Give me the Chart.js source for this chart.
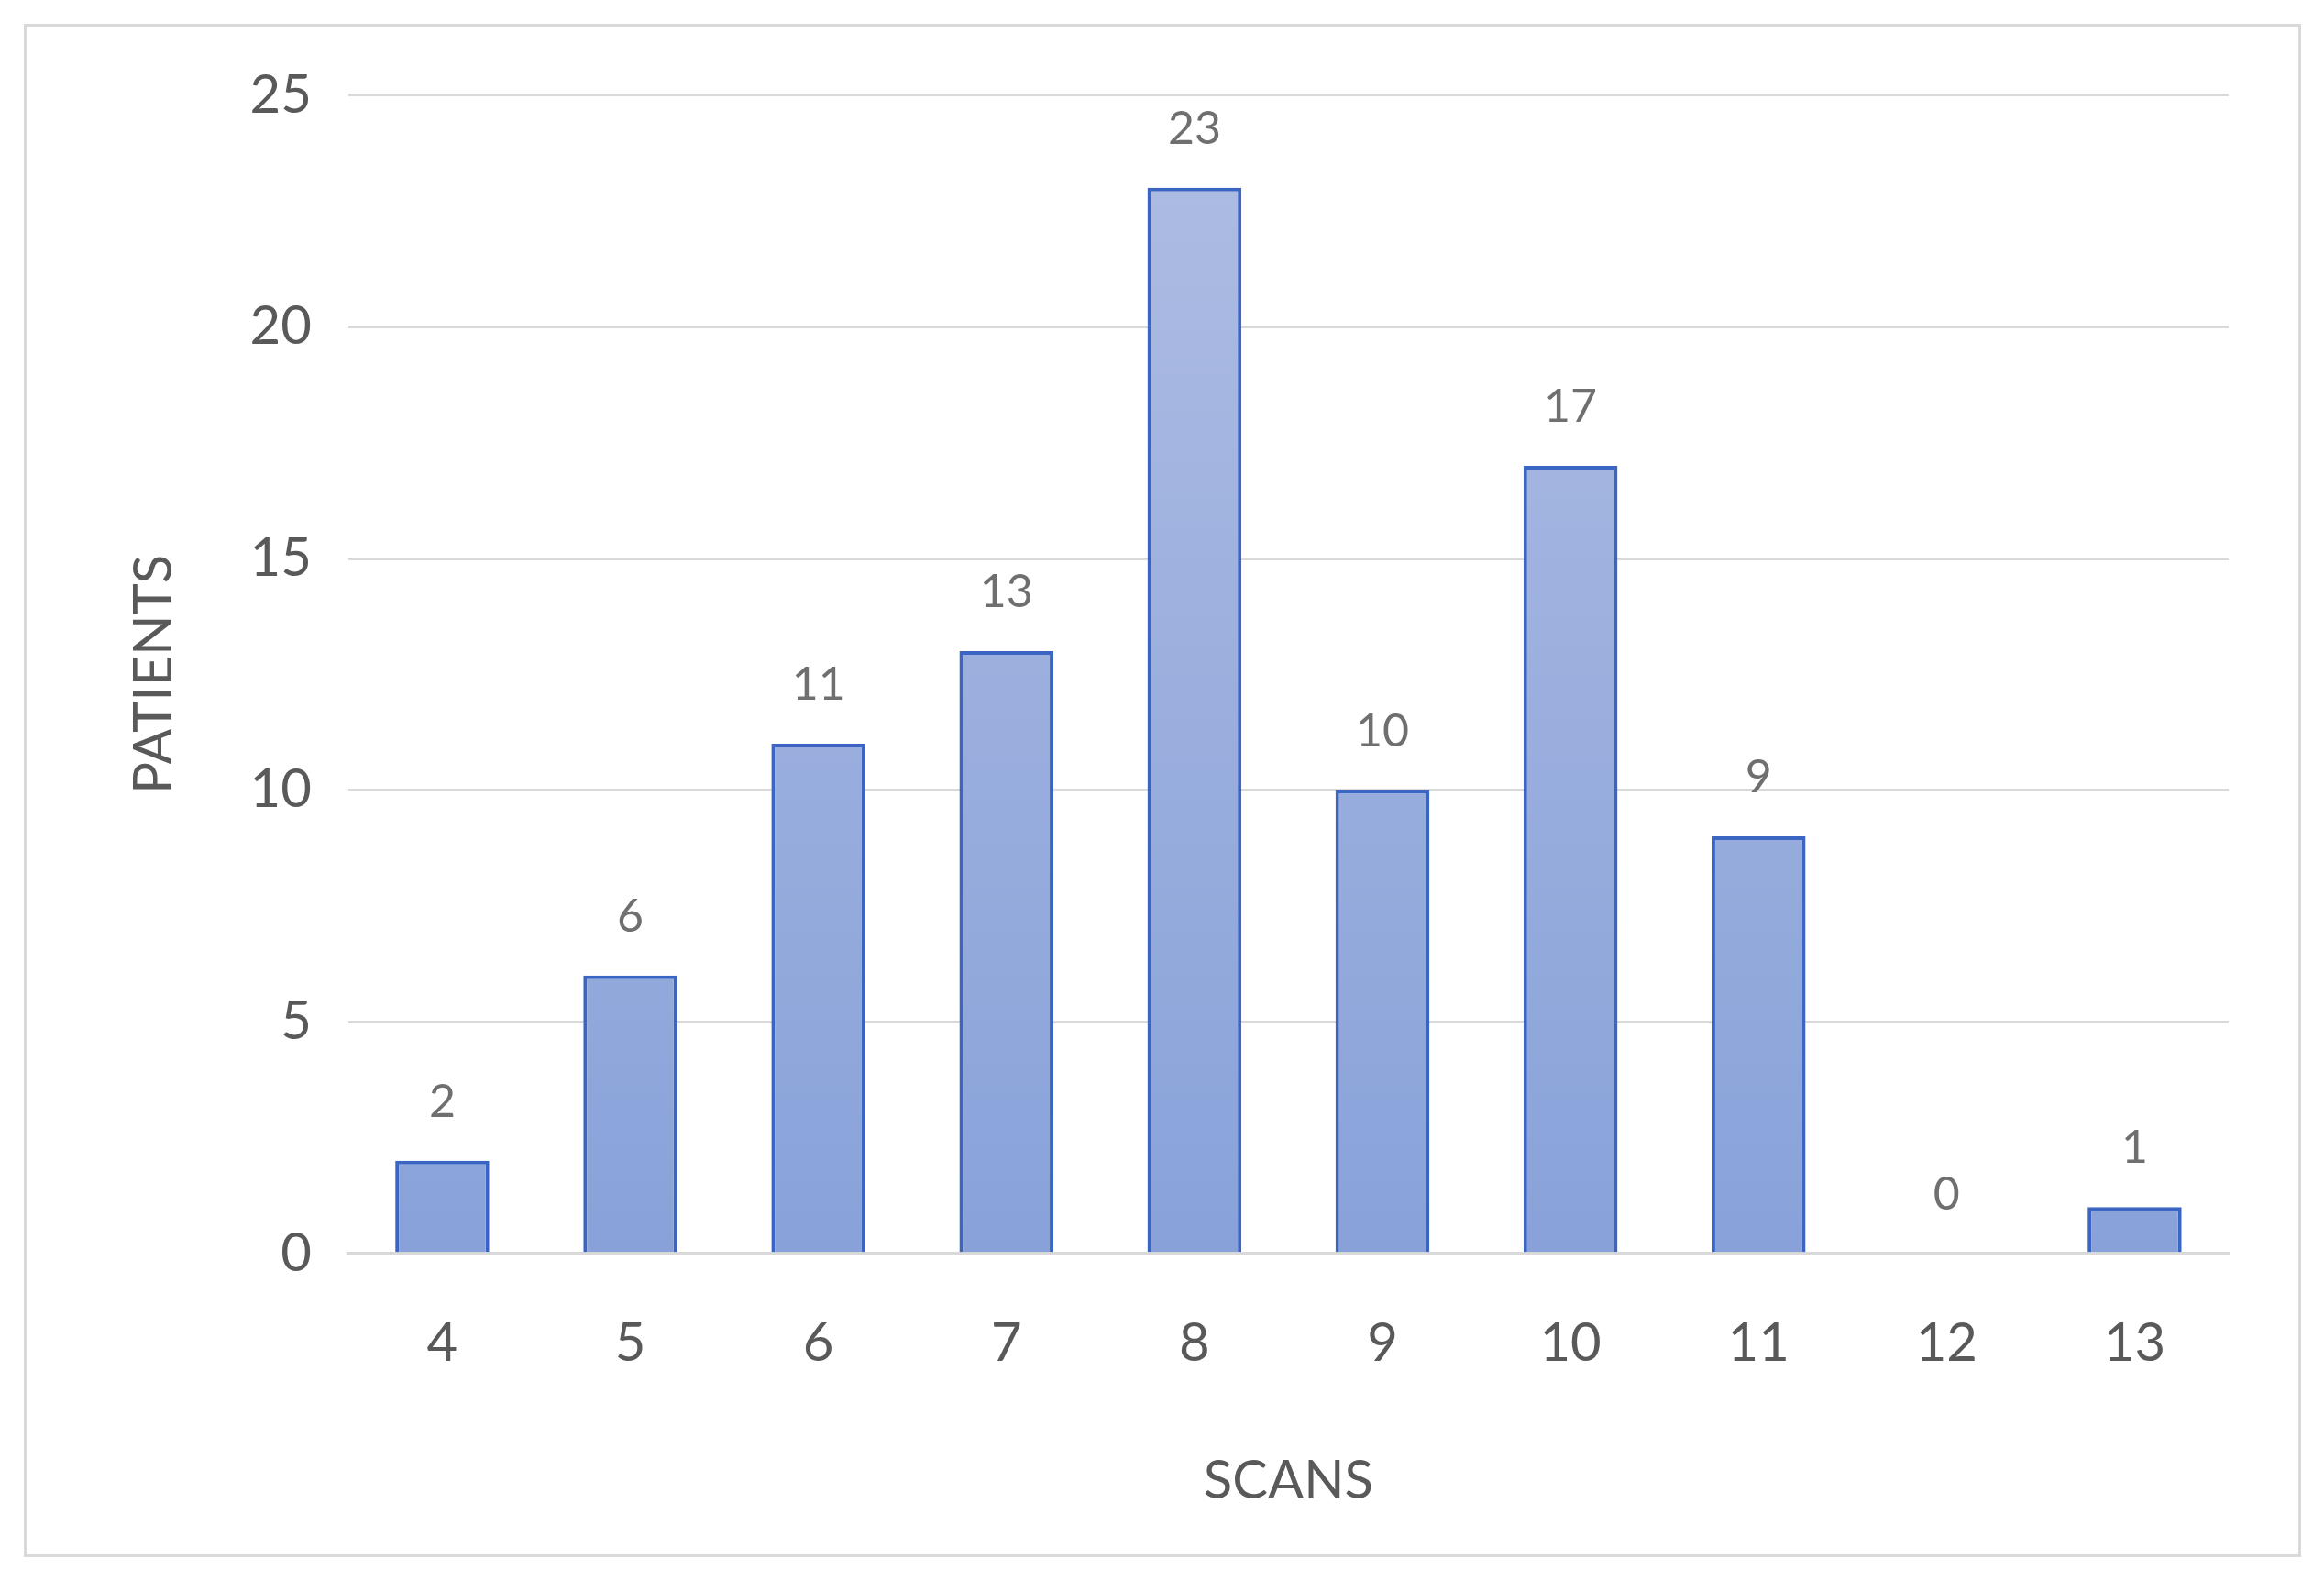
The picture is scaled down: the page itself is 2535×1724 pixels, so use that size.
<!DOCTYPE html>
<html>
<head>
<meta charset="utf-8">
<script src="https://cdn.jsdelivr.net/npm/chart.js@4"></script>
<style>
  body { margin: 0; background: #fff; }
  #wrap { position: absolute; left: 26px; top: 26px; width: 2478px; height: 1666px; border: 3px solid #d9d9d9; }
</style>
</head>
<body>
<div id="wrap"><canvas id="chart"></canvas></div>
<script>
// data
const scans = ["4", "5", "6", "7", "8", "9", "10", "11", "12", "13"];
const patients = [2, 6, 11, 13, 23, 10, 17, 9, 0, 1];
const yTicks = [0, 5, 10, 15, 20, 25];

const font = "Lato, 'Open Sans', sans-serif";
const grey = "#595959";

// labels above bars
const valueLabels = {
  id: "valueLabels",
  afterDatasetsDraw(chart) {
    const ctx = chart.ctx;
    const meta = chart.getDatasetMeta(0);
    ctx.save();
    ctx.fillStyle = "#6f6f6f";
    ctx.font = "50px " + font;
    ctx.textAlign = "center";
    ctx.textBaseline = "middle";
    meta.data.forEach((bar, i) => {
      ctx.fillText(patients[i], bar.x, bar.y - 64);
    });
    ctx.restore();
  },
};

function barFill(context) {
  const area = context.chart.chartArea;
  if (!area) return "#98acdc";
  const g = context.chart.ctx.createLinearGradient(0, area.top, 0, area.bottom);
  g.addColorStop(0, "#afbde3");
  g.addColorStop(1, "#88a2d9");
  return g;
}

new Chart(document.getElementById("chart"), {
  type: "bar",
  data: {
    labels: scans,
    datasets: [
      {
        data: patients,
        backgroundColor: barFill,
        borderColor: "#3b65c2",
        borderWidth: 4,
        borderSkipped: "bottom",
        barPercentage: 0.5,
        categoryPercentage: 1,
      },
    ],
  },
  options: {
    responsive: true,
    maintainAspectRatio: false,
    animation: false,
    layout: { padding: { left: 100, right: 76, top: 45, bottom: 41 } },
    plugins: { legend: { display: false }, tooltip: { enabled: false } },
    scales: {
      x: {
        grid: { display: false },
        border: { color: "#d9d9d9", width: 3 },
        ticks: { color: grey, font: { family: font, size: 58 }, padding: 56 },
        title: { display: true, text: "SCANS", color: grey, font: { family: font, size: 58 }, padding: { top: 24 } },
      },
      y: {
        min: 0,
        max: 25,
        afterBuildTicks: (axis) => { axis.ticks = yTicks.map((v) => ({ value: v })); },
        grid: { color: "#d9d9d9", lineWidth: 3, drawTicks: false },
        border: { display: false },
        ticks: { color: grey, font: { family: font, size: 58 }, padding: 40 },
        title: { display: true, text: "PATIENTS", color: grey, font: { family: font, size: 58 }, padding: { bottom: 30 } },
      },
    },
  },
  plugins: [valueLabels],
});
</script>
</body>
</html>
